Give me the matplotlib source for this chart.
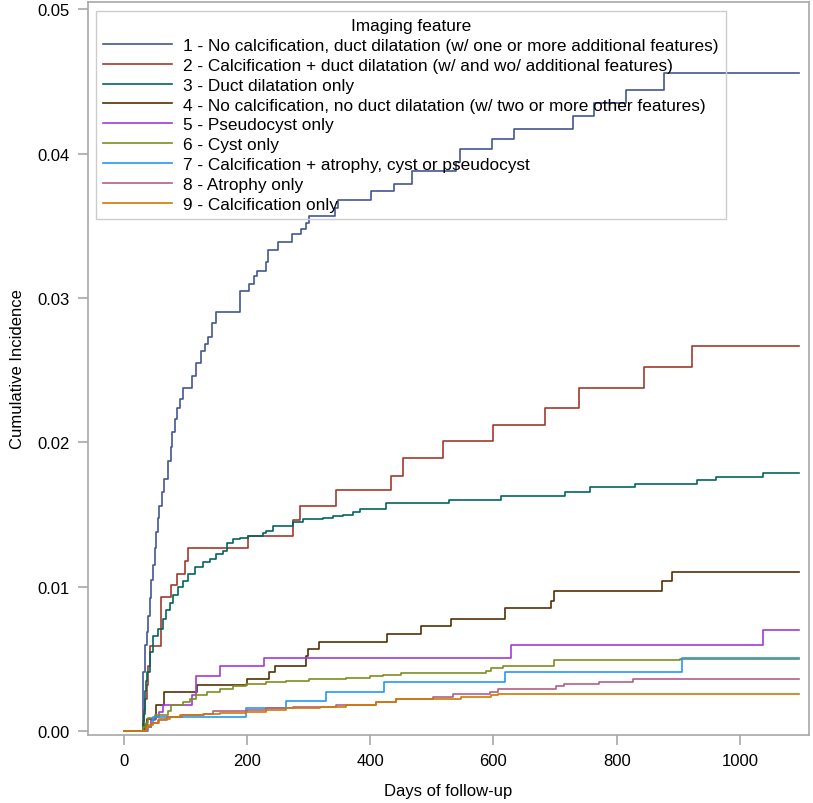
import numpy as np
import matplotlib
matplotlib.use('Agg')
import matplotlib.pyplot as plt

plt.rcParams['font.family'] = ['Liberation Sans', 'DejaVu Sans']

labels = [
    '1 - No calcification, duct dilatation (w/ one or more additional features)',
    '2 - Calcification + duct dilatation (w/ and wo/ additional features)',
    '3 - Duct dilatation only',
    '4 - No calcification, no duct dilatation (w/ two or more other features)',
    '5 - Pseudocyst only',
    '6 - Cyst only',
    '7 - Calcification + atrophy, cyst or pseudocyst',
    '8 - Atrophy only',
    '9 - Calcification only',
]
colors = ['#445694', '#A23A2E', '#01665E', '#543005', '#9D3CDB',
          '#7F8E1F', '#2597FA', '#B26084', '#D17800']
last_day = 1096

# event days and cumulative incidence after each step
g1_days = [0, 31, 32, 35, 37, 40, 42, 45, 47, 50, 53, 56, 58, 62, 66, 72, 76, 79, 83,
           87, 91, 96, 110, 118, 125, 132, 137, 144, 149, 188, 204, 212, 216, 231, 234,
           250, 273, 287, 296, 300, 343, 348, 402, 439, 468, 539, 546, 598, 634, 729,
           763, 815, 876]
g1_cif = [0, 0.0013, 0.0041, 0.0060, 0.0069, 0.0080, 0.0092, 0.0105, 0.0115, 0.0127,
          0.0138, 0.0148, 0.0156, 0.0166, 0.0175, 0.0187, 0.0197, 0.0207, 0.0216, 0.0224,
          0.0230, 0.0238, 0.0246, 0.0255, 0.0263, 0.0268, 0.0273, 0.0283, 0.0290, 0.0305,
          0.0310, 0.0315, 0.0319, 0.0325, 0.0333, 0.0339, 0.0344, 0.0348, 0.0352, 0.0357,
          0.0362, 0.0368, 0.0374, 0.0379, 0.0388, 0.0394, 0.0403, 0.0410, 0.0417, 0.0426,
          0.0435, 0.0444, 0.0456]

g2_days = [0, 31, 33, 35, 38, 40, 43, 61, 76, 86, 99, 105, 202, 274, 286, 344, 434,
           453, 518, 600, 684, 738, 845, 922]
g2_cif = [0, 0.0007, 0.0015, 0.0022, 0.0032, 0.0045, 0.0059, 0.0093, 0.0101, 0.0109,
          0.0118, 0.0127, 0.0135, 0.0146, 0.0156, 0.0167, 0.0177, 0.0189, 0.0201, 0.0212,
          0.0224, 0.0238, 0.0252, 0.0267]

g3_days = [0, 31, 33, 34, 35, 36, 38, 42, 48, 56, 64, 69, 75, 80, 88, 96, 104, 115,
           129, 140, 150, 161, 167, 177, 188, 202, 226, 231, 242, 275, 291, 323, 340,
           356, 372, 383, 426, 528, 613, 716, 757, 829, 931, 961, 1037]
g3_cif = [0, 0.0005, 0.0012, 0.0020, 0.0028, 0.0035, 0.0041, 0.0055, 0.0066, 0.0071,
          0.0078, 0.0084, 0.0089, 0.0094, 0.0100, 0.0104, 0.0109, 0.0114, 0.0117, 0.0119,
          0.0123, 0.0125, 0.0130, 0.0133, 0.0134, 0.0135, 0.0137, 0.0139, 0.0142, 0.0145,
          0.0147, 0.0148, 0.0149, 0.0150, 0.0152, 0.0154, 0.0158, 0.0160, 0.0163, 0.0166,
          0.0169, 0.0171, 0.0174, 0.0176, 0.0179]

g4_days = [0, 34, 37, 52, 66, 119, 200, 236, 246, 295, 299, 317, 428, 483, 531, 618,
           694, 699, 873, 890]
g4_cif = [0, 0.0004, 0.00085, 0.0018, 0.0027, 0.0032, 0.0036, 0.0041, 0.0045, 0.0052,
          0.0057, 0.0062, 0.0067, 0.0073, 0.0078, 0.0085, 0.0090, 0.0097, 0.0104, 0.0110]

g5_days = [0, 38, 44, 50, 58, 63, 111, 118, 156, 228, 628, 1038]
g5_cif = [0, 0.0003, 0.0008, 0.0010, 0.0013, 0.0018, 0.0025, 0.0038, 0.0045, 0.0051,
          0.0060, 0.0070]

g6_days = [0, 32, 36, 40, 50, 72, 77, 96, 107, 118, 135, 156, 178, 199, 231, 264, 300,
           361, 400, 420, 450, 588, 596, 615, 698, 902]
g6_cif = [0, 0.0003, 0.0006, 0.0009, 0.0011, 0.0014, 0.0018, 0.0020, 0.0022, 0.0025,
          0.0027, 0.0029, 0.0031, 0.0033, 0.0034, 0.0035, 0.0036, 0.0037, 0.0038, 0.0039,
          0.0040, 0.0042, 0.0044, 0.0045, 0.0049, 0.0050]

g7_days = [0, 40, 44, 48, 199, 264, 329, 422, 619, 906]
g7_cif = [0, 0.0003, 0.0006, 0.0010, 0.0016, 0.0021, 0.0027, 0.0034, 0.0041, 0.0051]

g8_days = [0, 38, 44, 55, 70, 95, 130, 145, 200, 231, 275, 345, 410, 442, 502, 534,
           595, 607, 701, 715, 772, 826]
g8_cif = [0, 0.0003, 0.0006, 0.0008, 0.0010, 0.0011, 0.0012, 0.0014, 0.0015, 0.0016,
          0.0017, 0.0018, 0.0020, 0.0022, 0.0024, 0.0026, 0.0027, 0.0029, 0.0031, 0.0033,
          0.0034, 0.0036]

g9_days = [0, 36, 40, 48, 58, 75, 91, 129, 156, 199, 231, 264, 318, 361, 410, 442, 548,
           596, 607]
g9_cif = [0, 0.0002, 0.0004, 0.0006, 0.00085, 0.0010, 0.0011, 0.0012, 0.00125, 0.00136,
          0.00148, 0.0016, 0.0017, 0.0018, 0.0020, 0.0022, 0.0024, 0.0025, 0.0026]

all_days = [g1_days, g2_days, g3_days, g4_days, g5_days, g6_days, g7_days, g8_days, g9_days]
all_cif = [g1_cif, g2_cif, g3_cif, g4_cif, g5_cif, g6_cif, g7_cif, g8_cif, g9_cif]

fig = plt.figure(figsize=(8.13, 8.04), dpi=100)
ax = fig.add_axes([0.1082, 0.0846, 0.8869, 0.9117])

for days, cif, lab, col in zip(all_days, all_cif, labels, colors):
    x = np.append(days, last_day)
    y = np.append(cif, cif[-1])
    ax.step(x, y, where='post', color=col, lw=1.2, label=lab)

ax.set_xlim(-58, 1112)
ax.set_ylim(-0.00026, 0.0505)
ax.set_xticks([0, 200, 400, 600, 800, 1000])
ax.set_yticks([0, 0.01, 0.02, 0.03, 0.04, 0.05])
ax.set_yticklabels(['%.2f' % v for v in [0, 0.01, 0.02, 0.03, 0.04, 0.05]])

frame_col = '#A8A8A8'
for sp in ax.spines.values():
    sp.set_color(frame_col)
    sp.set_linewidth(1.2)
ax.tick_params(colors=frame_col, labelcolor='black', labelsize=12, length=7, width=1.2)
ax.tick_params(axis='x', pad=6)
ax.tick_params(axis='y', pad=6)

ax.set_xlabel('Days of follow-up', fontsize=12, labelpad=11)
ax.set_ylabel('Cumulative Incidence', fontsize=12, labelpad=9)

# legend is see-through in the original (lines show behind the text)
leg = ax.legend(title='Imaging feature', loc='upper left', bbox_to_anchor=(0.0115, 0.988),
                fontsize=12.4, title_fontsize=12.4, frameon=True, fancybox=False,
                handlelength=4.0, handletextpad=0.64, labelspacing=0.28,
                borderpad=0.42, borderaxespad=0, framealpha=0)
leg.get_frame().set_edgecolor('#CCCCCC')
leg.get_frame().set_linewidth(1.0)
leg.get_frame().set_alpha(None)
leg.get_frame().set_facecolor('none')

fig.savefig('out.png', dpi=100)
